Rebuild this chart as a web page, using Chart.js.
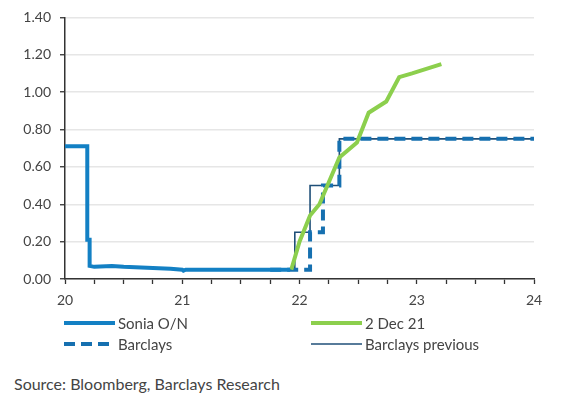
<!DOCTYPE html>
<html>
<head>
<meta charset="utf-8">
<script src="https://cdn.jsdelivr.net/npm/chart.js@4/dist/chart.umd.min.js"></script>
<style>
  body { margin: 0; background: #fff; font-family: Lato, sans-serif; color: #444; }
  #wrap { position: relative; width: 561px; height: 395px; }
  #chart { position: absolute; left: 0; top: 0; }
  .leg { position: absolute; font-size: 15px; display: flex; align-items: center; height: 20px; }
  .leg svg { margin-right: 3px; }
  #source { position: absolute; left: 14px; top: 374px; font-size: 16px; color: #444; }
</style>
</head>
<body>
<div id="wrap">
  <canvas id="chart" width="561" height="315"></canvas>
  <div id="legend"></div>
  <div id="source">Source: Bloomberg, Barclays Research</div>
</div>
<script>
// Sonia O/N
const soniaX = [20, 20.19, 20.19, 20.21, 20.21, 20.25, 20.4, 20.5, 20.7, 20.9, 21.0, 21.01, 21.03, 21.3, 21.6, 21.92];
const soniaY = [0.71, 0.71, 0.21, 0.21, 0.07, 0.065, 0.07, 0.065, 0.06, 0.055, 0.05, 0.045, 0.05, 0.05, 0.05, 0.05];

// 2 Dec 21 curve
const decX = [21.93, 22.0, 22.09, 22.17, 22.34, 22.49, 22.59, 22.74, 22.85, 22.96, 23.21];
const decY = [0.05, 0.2, 0.34, 0.40, 0.65, 0.73, 0.89, 0.95, 1.08, 1.10, 1.15];

// Barclays forecast
const barcX = [21.75, 22.09, 22.09, 22.2, 22.2, 22.34, 22.34, 24];
const barcY = [0.05, 0.05, 0.25, 0.25, 0.50, 0.50, 0.75, 0.75];

// Barclays previous forecast
const prevX = [21.2, 21.96, 21.96, 22.09, 22.09, 22.34, 22.34, 24];
const prevY = [0.05, 0.05, 0.25, 0.25, 0.50, 0.50, 0.75, 0.75];

const xTicks = [20, 21, 22, 23, 24];

function pts(xs, ys) {
  return xs.map((x, i) => ({ x: x, y: ys[i] }));
}

const series = [
  { label: "Sonia O/N", data: pts(soniaX, soniaY), color: "#1380c4", width: 4, dash: [], col: 0, row: 0 },
  { label: "2 Dec 21", data: pts(decX, decY), color: "#8ccf4d", width: 4, dash: [], col: 1, row: 0 },
  { label: "Barclays", data: pts(barcX, barcY), color: "#1670b0", width: 4, dash: [11, 6], col: 0, row: 1 },
  { label: "Barclays previous", data: pts(prevX, prevY), color: "#1f4f78", width: 1.6, dash: [], col: 1, row: 1 },
];

const datasets = series.map((s) => ({
  label: s.label,
  data: s.data,
  borderColor: s.color,
  backgroundColor: s.color,
  borderWidth: s.width,
  borderDash: s.dash,
  pointRadius: 0,
  tension: 0,
  fill: false,
}));

new Chart(document.getElementById("chart"), {
  type: "line",
  data: { datasets: datasets },
  options: {
    responsive: false,
    animation: false,
    layout: { padding: { left: 0, top: 15, right: 27, bottom: 0 } },
    plugins: {
      legend: { display: false },
      tooltip: { enabled: false },
    },
    scales: {
      x: {
        type: "linear",
        min: 20,
        max: 24,
        afterBuildTicks: (scale) => {
          const t = [];
          for (let v = 20; v <= 24.001; v += 0.25) t.push({ value: v });
          scale.ticks = t;
        },
        afterFit: (scale) => { scale.height = 36; },
        ticks: {
          autoSkip: false,
          maxRotation: 0,
          padding: 8,
          color: "#444",
          font: { family: "Lato", size: 14 },
          callback: (v) => (xTicks.includes(v) ? String(v) : ""),
        },
        grid: { drawOnChartArea: false, tickLength: 5, tickColor: "#333", tickWidth: 1.3 },
        border: { color: "#333", width: 1.5 },
      },
      y: {
        min: 0,
        max: 1.4,
        afterFit: (scale) => { scale.width = 65; },
        ticks: {
          stepSize: 0.2,
          padding: 9,
          color: "#444",
          font: { family: "Lato", size: 14 },
          callback: (v) => v.toFixed(2),
        },
        grid: { color: "#e6e6e6", lineWidth: 1.5, tickLength: 5, tickColor: "#333", tickWidth: 1.3 },
        border: { color: "#333", width: 1.5 },
      },
    },
  },
});

// legend below the chart, two columns
const legend = document.getElementById("legend");
const colX = [64, 311];
const rowY = [313, 334];
series.forEach((s) => {
  const div = document.createElement("div");
  div.className = "leg";
  div.style.left = colX[s.col] + "px";
  div.style.top = rowY[s.row] + "px";
  const dash = s.dash.length ? 'stroke-dasharray="' + s.dash.join(",") + '"' : "";
  div.innerHTML =
    '<svg width="51" height="8"><line x1="0" y1="4" x2="51" y2="4" stroke="' + s.color +
    '" stroke-width="' + s.width + '" ' + dash + "/></svg><span>" + s.label + "</span>";
  legend.appendChild(div);
});
</script>
</body>
</html>
